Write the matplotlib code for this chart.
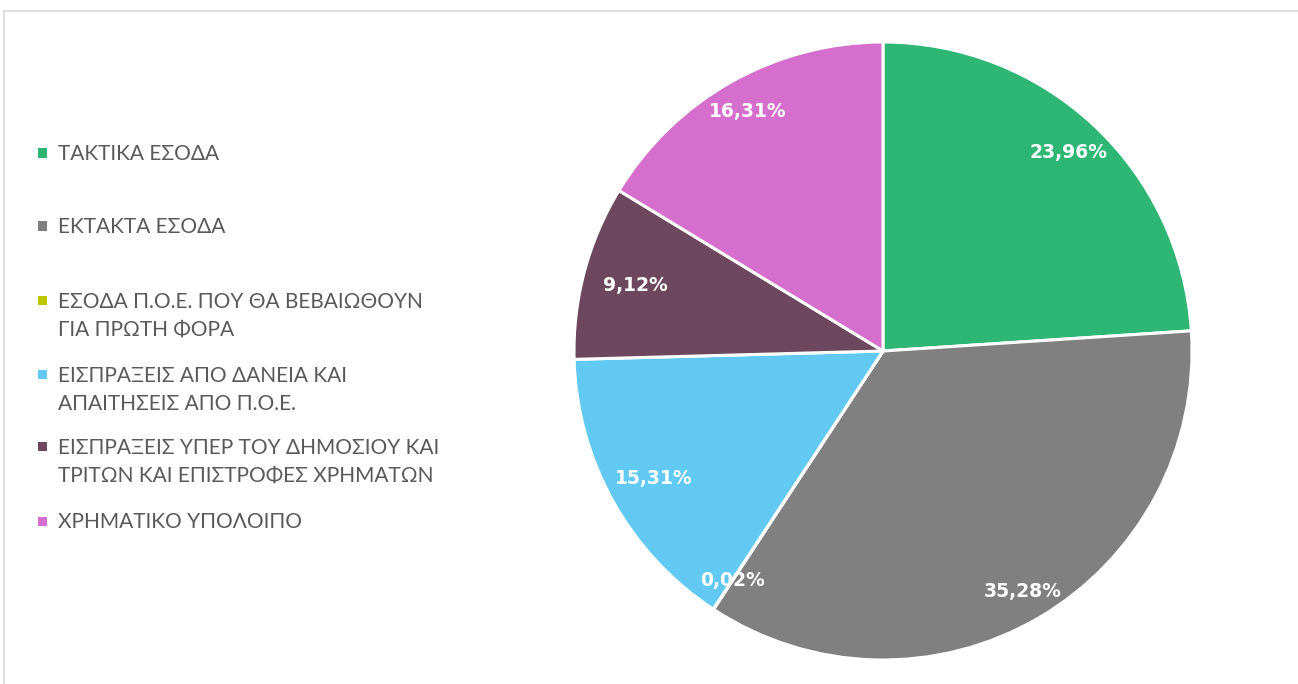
import matplotlib
matplotlib.use("Agg")
import matplotlib.pyplot as plt
import numpy as np
from matplotlib.lines import Line2D
from matplotlib.patches import Rectangle

categories = [
    "ΤΑΚΤΙΚΑ ΕΣΟΔΑ",
    "ΕΚΤΑΚΤΑ ΕΣΟΔΑ",
    "ΕΣΟΔΑ Π.Ο.Ε. ΠΟΥ ΘΑ ΒΕΒΑΙΩΘΟΥΝ\nΓΙΑ ΠΡΩΤΗ ΦΟΡΑ",
    "ΕΙΣΠΡΑΞΕΙΣ ΑΠΟ ΔΑΝΕΙΑ ΚΑΙ\nΑΠΑΙΤΗΣΕΙΣ ΑΠΟ Π.Ο.Ε.",
    "ΕΙΣΠΡΑΞΕΙΣ ΥΠΕΡ ΤΟΥ ΔΗΜΟΣΙΟΥ ΚΑΙ\nΤΡΙΤΩΝ ΚΑΙ ΕΠΙΣΤΡΟΦΕΣ ΧΡΗΜΑΤΩΝ",
    "ΧΡΗΜΑΤΙΚΟ ΥΠΟΛΟΙΠΟ",
]
values = [23.96, 35.28, 0.02, 15.31, 9.12, 16.31]
colors = ["#2DB674", "#808080", "#BDC700", "#62CAF2", "#6D475E", "#D56ECC"]

W, H = 1298, 684
fig = plt.figure(figsize=(W / 100, H / 100), dpi=100)
fig.patch.set_facecolor("white")

# frame border
fig.add_artist(Line2D([4 / W, 1.0], [1 - 11 / H, 1 - 11 / H], transform=fig.transFigure,
                      color="#D9D9D9", lw=1.2))
fig.add_artist(Line2D([4 / W, 4 / W], [0, 1 - 11 / H], transform=fig.transFigure,
                      color="#D9D9D9", lw=1.2))

cx, cy, r = 883, 351, 309
ax = fig.add_axes([(cx - r) / W, (H - cy - r) / H, 2 * r / W, 2 * r / H])
wedges, _ = ax.pie(values, colors=colors, startangle=90, counterclock=False,
                   wedgeprops=dict(edgecolor="white", linewidth=2.2))
ax.set_xlim(-1, 1)
ax.set_ylim(-1, 1)
ax.set_aspect("equal")
ax.axis("off")

label_r = [0.88, 0.90, 0.89, 0.85, 0.83, 0.89]
for w, v, lr in zip(wedges, values, label_r):
    ang = np.deg2rad((w.theta1 + w.theta2) / 2)
    txt = f"{v:.2f}".replace(".", ",") + "%"
    ax.text(lr * np.cos(ang), lr * np.sin(ang), txt, ha="center", va="center",
            color="white", fontsize=13.5, fontweight="bold", family=["DejaVu Sans"])

# legend
legend_y = [153, 226, 300, 374, 446, 521]
line_gap = 28
for lab, col, y in zip(categories, colors, legend_y):
    fig.add_artist(Rectangle(((42 - 4.5) / W, 1 - (y + 4.5) / H), 9 / W, 9 / H,
                             transform=fig.transFigure, color=col, lw=0))
    for i, line in enumerate(lab.split("\n")):
        fig.text(58 / W, 1 - (y + 7.5 + i * line_gap) / H, line, ha="left", va="baseline",
                 color="#595959", fontsize=15,
                 family=["Lato", "Noto Sans", "DejaVu Sans"])

fig.savefig("out.png", dpi=100)
